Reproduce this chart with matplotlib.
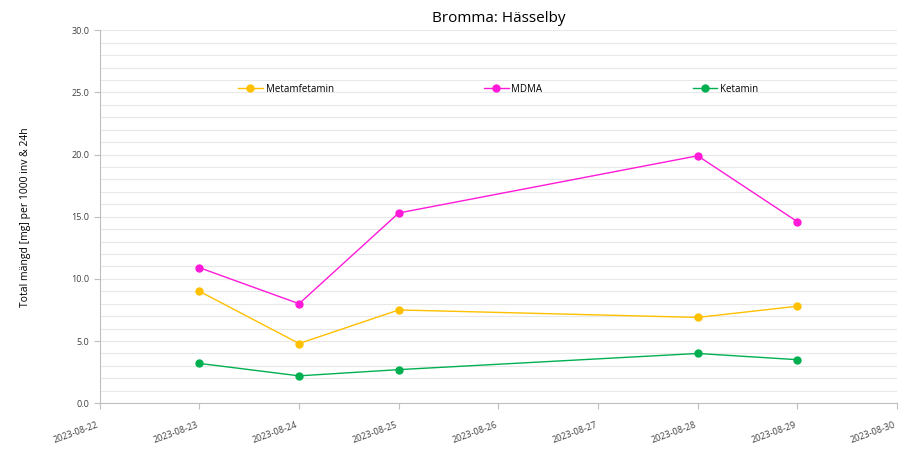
import matplotlib
matplotlib.use("Agg")
import matplotlib.pyplot as plt
import matplotlib.dates as mdates
import numpy as np
from datetime import date

dates = [date(2023, 8, 23), date(2023, 8, 24), date(2023, 8, 25), date(2023, 8, 28), date(2023, 8, 29)]
metamfetamin = [9.0, 4.8, 7.5, 6.9, 7.8]
mdma = [10.9, 8.0, 15.3, 19.9, 14.6]
ketamin = [3.2, 2.2, 2.7, 4.0, 3.5]

plt.rcParams['font.family'] = ['Open Sans', 'DejaVu Sans']

fig = plt.figure(figsize=(9.07, 4.51), dpi=100)
ax = fig.add_axes([0.110, 0.106, 0.879, 0.827])

ax.plot(dates, metamfetamin, color='#FFC000', lw=1, marker='o', ms=5, label='Metamfetamin')
ax.plot(dates, mdma, color='#FF1AD9', lw=1, marker='o', ms=5, label='MDMA')
ax.plot(dates, ketamin, color='#00B050', lw=1, marker='o', ms=5, label='Ketamin')

ax.set_xlim(date(2023, 8, 22), date(2023, 8, 30))
ax.set_ylim(0, 30)
ax.xaxis.set_major_locator(mdates.DayLocator())
ax.xaxis.set_major_formatter(mdates.DateFormatter('%Y-%m-%d'))
ax.set_yticks(np.arange(0, 30.1, 5))
ax.set_yticks(np.arange(0, 30.1, 1), minor=True)
ax.yaxis.set_major_formatter(matplotlib.ticker.FormatStrFormatter('%.1f'))
ax.grid(axis='y', which='both', color='#e8e8e8', lw=0.8)
ax.set_axisbelow(True)

for s in ['top', 'right']:
    ax.spines[s].set_visible(False)
for s in ['left', 'bottom']:
    ax.spines[s].set_color('#bfbfbf')
ax.tick_params(axis='both', which='major', colors='#bfbfbf', labelcolor='#404040', labelsize=6.5, length=4)
ax.tick_params(axis='x', pad=8)
ax.tick_params(axis='y', which='minor', length=0)
plt.setp(ax.get_xticklabels(), rotation=20, ha='right')

ax.set_ylabel('Total mängd [mg] per 1000 inv & 24h', fontsize=7.5, labelpad=29)
ax.set_title('Bromma: Hässelby', fontsize=11, pad=6)

leg = ax.legend(ncol=3, loc='center', bbox_to_anchor=(0.5, 0.842), frameon=False,
                fontsize=7, columnspacing=15.5, handlelength=2.5, handletextpad=0.3)

fig.savefig('out.png', dpi=100)
